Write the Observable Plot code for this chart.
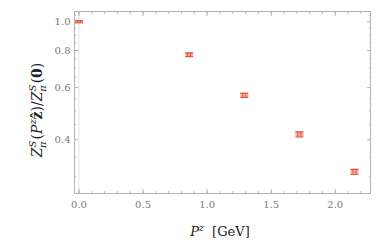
<!DOCTYPE html>
<html>
<head>
<meta charset="utf-8">
<script src="https://cdn.jsdelivr.net/npm/d3@7"></script>
<script src="https://cdn.jsdelivr.net/npm/@observablehq/plot@0.6"></script>
<style>
  html, body { margin: 0; padding: 0; background: white; }
</style>
</head>
<body>
<div id="chart"></div>
<script>
// Data
const pz = [0.0, 0.86, 1.29, 1.72, 2.15];
const ratio = [1.0, 0.774, 0.565, 0.417, 0.312];
const err = [0.008, 0.011, 0.009, 0.008, 0.006];
const xTicks = [0.0, 0.5, 1.0, 1.5, 2.0];
const yTicks = [0.4, 0.6, 0.8, 1.0];
const xMinor = d3.range(0, 23).map(i => +(i * 0.1).toFixed(1));
const yMinor = d3.range(6, 22).map(i => +(i * 0.05).toFixed(2));

const data = pz.map((p, i) => ({p, r: ratio[i], lo: ratio[i] - err[i], hi: ratio[i] + err[i]}));

const color = "#e5533c";
const light = "#f6b4a6";
const axisGray = "#b4b4b4";
const textGray = "#7a7a7a";
const fontFam = "DejaVu Serif";

const capSymbol = {
  draw(ctx, size) {
    ctx.moveTo(-4, 0);
    ctx.lineTo(4, 0);
  }
};

const tickStyle = {stroke: axisGray, tickFormat: () => "", label: null};

const plot = Plot.plot({
  width: 382,
  height: 243,
  marginLeft: 74,
  marginRight: 12,
  marginTop: 11,
  marginBottom: 50,
  style: {fontFamily: fontFam, fontSize: "10px", background: "white"},
  x: {domain: [-0.035, 2.275]},
  y: {type: "log", domain: [0.2636, 1.083]},
  marks: [
    Plot.ruleX([0], {stroke: "#e6e6e6"}),
    Plot.frame({stroke: axisGray}),
    // labels
    Plot.axisX({ticks: xTicks, anchor: "bottom", tickSize: 0, tickPadding: 7, tickFormat: d3.format(".1f"), fill: textGray, label: null}),
    Plot.axisY({ticks: yTicks, anchor: "left", tickSize: 0, tickPadding: 4, tickFormat: d3.format(".1f"), fill: textGray, label: null}),
    // inward ticks bottom/top
    Plot.axisX({ticks: xTicks, anchor: "bottom", tickSize: 4, dy: -4, ...tickStyle}),
    Plot.axisX({ticks: xMinor, anchor: "bottom", tickSize: 2, dy: -2, ...tickStyle}),
    Plot.axisX({ticks: xTicks, anchor: "top", tickSize: 4, dy: 4, ...tickStyle}),
    Plot.axisX({ticks: xMinor, anchor: "top", tickSize: 2, dy: 2, ...tickStyle}),
    // inward ticks left/right
    Plot.axisY({ticks: yTicks, anchor: "left", tickSize: 4, dx: 4, ...tickStyle}),
    Plot.axisY({ticks: yMinor, anchor: "left", tickSize: 2, dx: 2, ...tickStyle}),
    Plot.axisY({ticks: yTicks, anchor: "right", tickSize: 4, dx: -4, ...tickStyle}),
    Plot.axisY({ticks: yMinor, anchor: "right", tickSize: 2, dx: -2, ...tickStyle}),
    // error markers
    Plot.ruleX(data, {x: "p", y1: "lo", y2: "hi", stroke: light, strokeWidth: 8}),
    Plot.ruleX(data, {x: "p", y1: "lo", y2: "hi", stroke: color, strokeWidth: 1, dx: -1.5}),
    Plot.ruleX(data, {x: "p", y1: "lo", y2: "hi", stroke: color, strokeWidth: 1, dx: 1.5}),
    Plot.dot(data, {x: "p", y: "hi", symbol: capSymbol, stroke: color, strokeWidth: 1.2, r: 4}),
    Plot.dot(data, {x: "p", y: "lo", symbol: capSymbol, stroke: color, strokeWidth: 1.2, r: 4})
  ]
});

const svg = d3.select(plot);

function addRichText(g, segs, fs) {
  let cur = 0;
  for (const s of segs) {
    const t = g.append("tspan").text(s.t);
    let target = 0, size = fs;
    if (s.sup) { target = -0.42 * fs; size = 0.7 * fs; }
    if (s.sub) { target = 0.28 * fs; size = 0.7 * fs; }
    t.attr("dy", target - cur).attr("font-size", size);
    if (s.dx) t.attr("dx", s.dx);
    cur = target;
    if (s.it) t.attr("font-style", "italic");
    if (s.bold) t.attr("font-weight", "bold");
  }
}

// Y label
const yl = svg.append("text")
  .attr("transform", "translate(42,110) rotate(-90)")
  .attr("text-anchor", "middle")
  .attr("font-family", fontFam)
  .attr("font-size", 14)
  .attr("fill", "#222");
addRichText(yl, [
  {t: "Z", it: true},
  {t: "S", it: true, sup: true},
  {t: "π", it: true, sub: true, dx: -7},
  {t: "(", dx: 2},
  {t: "P", it: true},
  {t: "z", it: true, sup: true},
  {t: "ẑ", bold: true},
  {t: ")/"},
  {t: "Z", it: true},
  {t: "S", it: true, sup: true},
  {t: "π", it: true, sub: true, dx: -7},
  {t: "(", dx: 2},
  {t: "0", bold: true},
  {t: ")"}
], 14);

// X label
const xl = svg.append("text")
  .attr("x", 220)
  .attr("y", 236)
  .attr("text-anchor", "middle")
  .attr("font-family", fontFam)
  .attr("font-size", 13)
  .attr("fill", "#222");
addRichText(xl, [
  {t: "P", it: true},
  {t: "z", it: true, sup: true},
  {t: "  [GeV]"}
], 13);

document.getElementById("chart").appendChild(plot);
</script>
</body>
</html>
